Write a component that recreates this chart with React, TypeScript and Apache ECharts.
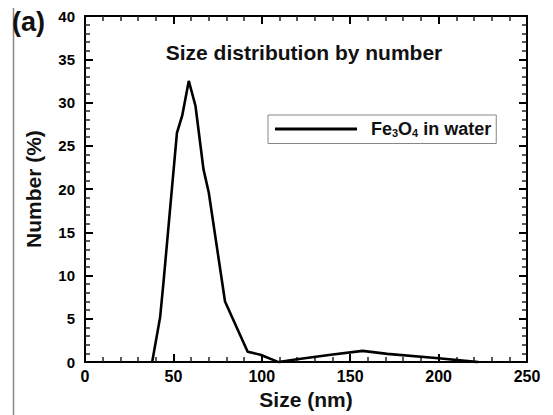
import React, { useEffect, useRef } from "react";
import * as echarts from "echarts";

const sizes = [38, 42.5, 44.3, 52, 55, 58.7, 62.5, 67, 70, 79.2, 92, 99.2, 109.5, 119, 139, 157, 171, 200, 222.5];
const numbers = [0, 5.2, 9, 26.5, 28.5, 32.5, 29.6, 22.3, 19.6, 7, 1.2, 0.85, 0, 0.3, 0.85, 1.3, 0.95, 0.45, 0];
const seriesName = "Fe3O4 in water";
const xTicks = { min: 0, max: 250, interval: 50 };
const yTicks = { min: 0, max: 40, interval: 5 };

const FONT = "'Liberation Sans', Arial, sans-serif";

export default function App() {
  const ref = useRef<HTMLDivElement>(null);
  useEffect(() => {
    document.body.style.margin = "0";
    const chart = echarts.init(ref.current!, null, { renderer: "svg" });
    const mk = () => ({
      axisLine: { show: true, onZero: false, lineStyle: { color: "#000", width: 2 } },
      axisTick: { show: true, inside: true, length: 8, lineStyle: { color: "#000", width: 2 } },
      minorTick: { show: true, splitNumber: 5, length: 5, lineStyle: { color: "#222", width: 1.5 } },
      splitLine: { show: false },
    });
    chart.setOption({
      animation: false,
      backgroundColor: "#fff",
      title: [
        {
          text: "Size distribution by number",
          left: 299,
          top: 37,
          textAlign: "center",
          textStyle: { fontFamily: FONT, fontWeight: "bold", fontSize: 21, color: "#111" },
        },
        {
          text: "(a)",
          left: 12,
          top: 8,
          padding: 0,
          textStyle: { fontFamily: FONT, fontWeight: "bold", fontSize: 27, color: "#111" },
        },
      ],
      grid: { left: 85, right: 26, top: 16, bottom: 51 },
      legend: {
        left: 268,
        top: 115,
        orient: "horizontal",
        padding: [5, 5, 5, 7],
        borderColor: "#888",
        borderWidth: 1,
        icon: "rect",
        itemWidth: 82,
        itemHeight: 3,
        data: [seriesName],
        formatter: () => "Fe{sub|3}O{sub|4} in water",
        textStyle: {
          fontFamily: FONT,
          fontWeight: "bold",
          fontSize: 18,
          color: "#111",
          padding: [0, 0, 0, 9],
          rich: {
            sub: { fontFamily: FONT, fontWeight: "bold", fontSize: 11, color: "#111", verticalAlign: "bottom", padding: [8, 0, 0, 0] },
          },
        },
      },
      xAxis: [
        {
          type: "value",
          position: "bottom",
          ...xTicks,
          ...mk(),
          name: "Size (nm)",
          nameLocation: "middle",
          nameGap: 25,
          nameTextStyle: { fontFamily: FONT, fontWeight: "bold", fontSize: 21, color: "#111" },
          axisLabel: { fontFamily: FONT, fontWeight: "bold", fontSize: 16, color: "#000", margin: 6 },
        },
        {
          type: "value",
          position: "top",
          ...xTicks,
          ...mk(),
          axisLabel: { show: false },
        },
      ],
      yAxis: [
        {
          type: "value",
          position: "left",
          ...yTicks,
          ...mk(),
          name: "Number (%)",
          nameLocation: "middle",
          nameGap: 41,
          nameTextStyle: { fontFamily: FONT, fontWeight: "bold", fontSize: 21, color: "#111" },
          axisLabel: { fontFamily: FONT, fontWeight: "bold", fontSize: 15, color: "#000", margin: 10 },
        },
        {
          type: "value",
          position: "right",
          ...yTicks,
          ...mk(),
          axisLabel: { show: false },
        },
      ],
      graphic: [
        {
          type: "line",
          shape: { x1: 13.5, y1: 8, x2: 13.5, y2: 415 },
          style: { stroke: "#888", lineWidth: 1.5 },
        },
      ],
      series: [
        {
          name: seriesName,
          type: "line",
          symbol: "none",
          lineStyle: { color: "#000", width: 2.6 },
          itemStyle: { color: "#000" },
          data: sizes.map((s, i) => [s, numbers[i]]),
        },
      ],
    });
    return () => chart.dispose();
  }, []);
  return <div ref={ref} style={{ width: 553, height: 415 }} />;
}
